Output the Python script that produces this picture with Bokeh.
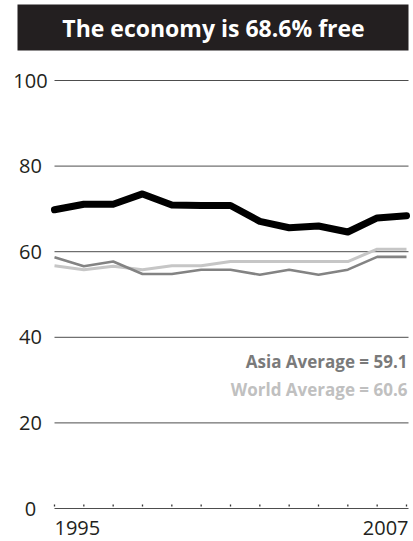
from bokeh.plotting import figure
from bokeh.models import Range1d
from bokeh.core.properties import value
from bokeh.embed import file_html
from bokeh.resources import INLINE

# ---- data ----
years = list(range(1995, 2008))
economy = [69.8, 71.1, 71.1, 73.5, 70.9, 70.8, 70.8, 67.1, 65.6, 66.0, 64.6, 67.9, 68.4]
asia_avg = [58.7, 56.6, 57.7, 54.8, 54.8, 55.8, 55.8, 54.6, 55.8, 54.6, 55.8, 58.8, 58.8]
world_avg = [56.7, 55.8, 56.6, 55.8, 56.7, 56.7, 57.7, 57.7, 57.7, 57.7, 57.7, 60.6, 60.6]
y_ticks = [0, 20, 40, 60, 80, 100]
x_tick_labels = ["1995", "2007"]
title_text = "The economy is 68.6% free"
asia_label = "Asia Average = 59.1"
world_label = "World Average = 60.6"

# ---- layout (picture pixels -> data) ----
W, H = 413, 541
OFF = 0
X0_PX, X1_PX = 54.0, 406.0           # x of first / last year
Y0_PX, Y100_PX = 508.0, 80.0          # y of 0 / 100
kx = (X1_PX - X0_PX) / (years[-1] - years[0])
ky = (Y0_PX - Y100_PX) / 100.0


def px(xp):
    return years[0] + (xp - X0_PX) / kx


def py(yp):
    return (Y0_PX - yp) / ky


p = figure(width=W, height=H, output_backend="svg", toolbar_location=None,
           x_axis_location=None, y_axis_location=None, min_border=0,
           x_range=Range1d(px(OFF), px(OFF + W)),
           y_range=Range1d(py(OFF + H), py(OFF)),
           outline_line_color=None, background_fill_color="white",
           border_fill_color="white")
p.xgrid.visible = False
p.ygrid.visible = False

FONT = "Open Sans"

# title bar
p.quad(left=px(17), right=px(408), top=py(4), bottom=py(50),
       fill_color="#231f20", line_color=None)
p.text(x=[px(213)], y=[py(27.5)], text=[title_text], text_color="white",
       text_font=value(FONT), text_font_style="bold", text_font_size="23px",
       text_align="center", text_baseline="middle")

# gridlines
p.segment(x0=[years[0]] * len(y_ticks), x1=[px(408)] * len(y_ticks),
          y0=y_ticks, y1=y_ticks, line_color="#4d4d4d", line_width=1)

# tick dots along the baseline
p.segment(x0=years, x1=years, y0=[py(506)] * len(years), y1=[py(504)] * len(years),
          line_color="#333333", line_width=1.3)

# y tick labels
p.text(x=[px(30)] * len(y_ticks), y=y_ticks, text=[str(t) for t in y_ticks],
       text_color="#231f20", text_font=value(FONT), text_font_size="20px",
       text_align="center", text_baseline="middle")

# x labels
p.text(x=[years[0]], y=[py(527)], text=[x_tick_labels[0]], text_color="#231f20",
       text_font=value(FONT), text_font_size="20px", text_align="left",
       text_baseline="middle")
p.text(x=[years[-1]], y=[py(527)], text=[x_tick_labels[1]], text_color="#231f20",
       text_font=value(FONT), text_font_size="20px", text_align="right",
       text_baseline="middle", x_offset=2)

# series
p.line(years, world_avg, line_color="#c6c6c6", line_width=3)
p.line(years, asia_avg, line_color="#838383", line_width=2.6)
p.line(years, economy, line_color="black", line_width=7, line_join="round",
       line_cap="round")

# average labels
p.text(x=[px(407)], y=[py(361)], text=[asia_label], text_color="#7a7a7a",
       text_font=value(FONT), text_font_style="bold", text_font_size="17px",
       text_align="right", text_baseline="middle")
p.text(x=[px(407)], y=[py(389)], text=[world_label], text_color="#c0c0c0",
       text_font=value(FONT), text_font_style="bold", text_font_size="17px",
       text_align="right", text_baseline="middle")

open("out.html", "w").write(file_html(p, INLINE))
